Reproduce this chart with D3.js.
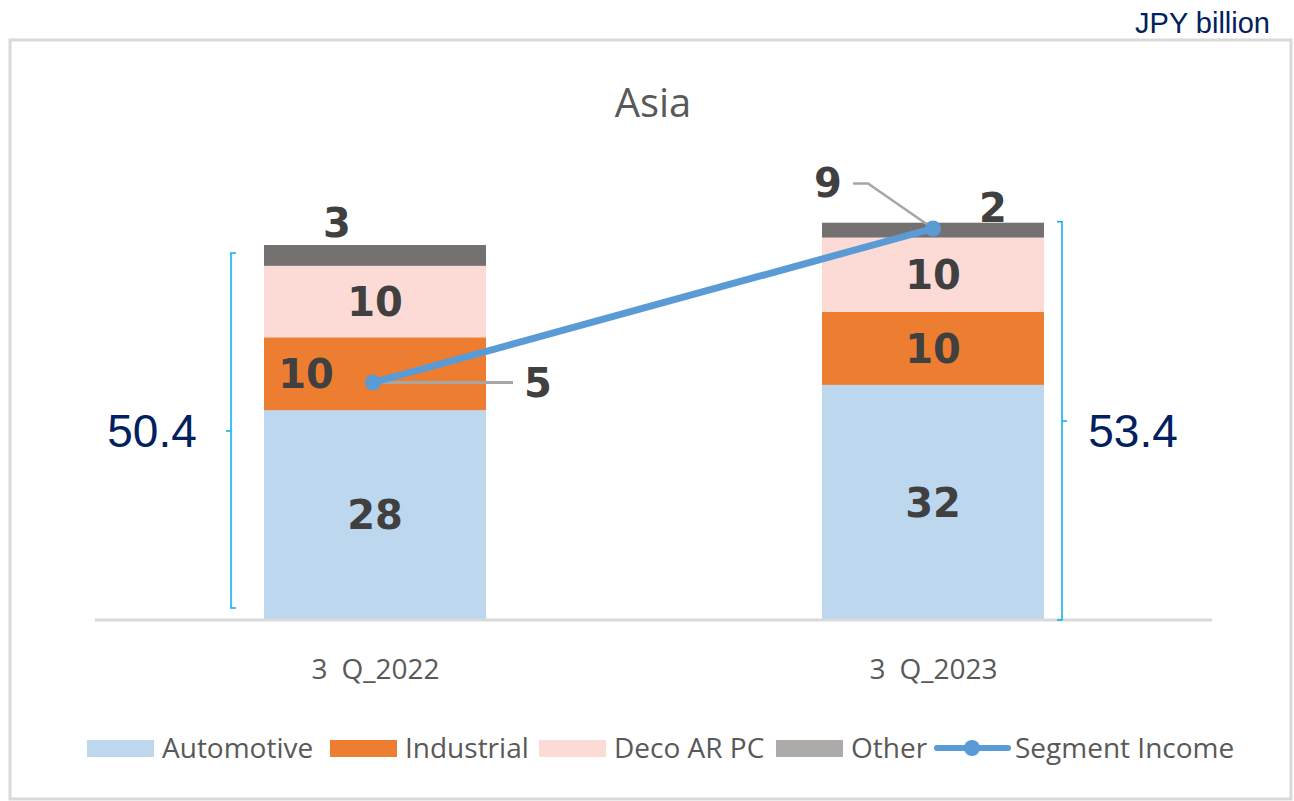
<!DOCTYPE html>
<html>
<head>
<meta charset="utf-8">
<script src="https://cdn.jsdelivr.net/npm/d3@7"></script>
<style>
  body { margin: 0; background: #fff; }
  svg { display: block; }
</style>
</head>
<body>
<div class="App"></div>
<script>
// chart values
const categories = ["3 Q_2022", "3 Q_2023"];
const seriesNames = ["Automotive", "Industrial", "Deco AR PC", "Other"];
const automotive = [28.2, 31.6];
const industrial = [9.8, 9.8];
const decoArPc = [9.6, 10.0];
const other = [2.8, 2.0];
const segmentIncome = [5, 9];
const totals = [50.4, 53.4];

const colors = ["#bdd7ee", "#ed7d31", "#fcdad5", "#767171"];
const legendColors = ["#bdd7ee", "#ed7d31", "#fcdad5", "#aeaaaa"];
const lineColor = "#5b9bd5";

const width = 1294, height = 801;
const baseY = 620, barW = 222;

const svg = d3.select(".App").append("svg")
    .attr("width", width)
    .attr("height", height);

// frame
svg.append("rect")
    .attr("x", 10).attr("y", 40)
    .attr("width", 1281).attr("height", 759)
    .attr("fill", "none")
    .attr("stroke", "#d9d9d9")
    .attr("stroke-width", 3);

svg.append("text")
    .attr("x", 1270).attr("y", 33)
    .attr("text-anchor", "end")
    .attr("font-family", "Liberation Sans, Arial, sans-serif")
    .attr("font-size", 29)
    .attr("fill", "#002060")
    .text("JPY billion");

svg.append("text")
    .attr("x", 653).attr("y", 117)
    .attr("text-anchor", "middle")
    .attr("font-family", "Open Sans, sans-serif")
    .attr("font-size", 40)
    .attr("fill", "#595959")
    .text("Asia");

const x = d3.scalePoint().domain(categories).range([96, 1212]).padding(0.5);
const y = d3.scaleLinear().domain([0, 60]).range([baseY, baseY - 446.4]);
const y2 = d3.scaleLinear().domain([0, 12]).range([575, 113]);

// stacked bars
const rows = categories.map((c, i) => ({
  cat: c,
  "Automotive": automotive[i],
  "Industrial": industrial[i],
  "Deco AR PC": decoArPc[i],
  "Other": other[i]
}));
const stack = d3.stack().keys(seriesNames)(rows);

const layer = svg.append("g").selectAll("g")
  .data(stack)
  .enter().append("g")
    .attr("fill", (d, i) => colors[i]);

layer.selectAll("rect")
  .data(d => d)
  .enter().append("rect")
    .attr("x", d => x(d.data.cat) - barW / 2)
    .attr("width", barW)
    .attr("y", d => y(d[1]))
    .attr("height", d => y(d[0]) - y(d[1]));

// axis line
svg.append("line")
    .attr("x1", 95).attr("x2", 1212)
    .attr("y1", baseY).attr("y2", baseY)
    .attr("stroke", "#d9d9d9").attr("stroke-width", 3);

const xAxis = svg.append("g")
    .attr("transform", "translate(0," + baseY + ")")
    .call(d3.axisBottom(x).tickSize(0).tickPadding(39));
xAxis.select(".domain").remove();
xAxis.selectAll("text")
    .attr("font-family", "Open Sans, sans-serif")
    .attr("font-size", 28)
    .attr("fill", "#595959")
    .text(d => d.replace(" ", "\u2002"));

// label nudges (other-series labels sit above the bar)
const nudge = {
  "Industrial|3 Q_2022": [-69, 0],
  "Other|3 Q_2022": [-38, -33],
  "Other|3 Q_2023": [60, -23]
};

stack.forEach(s => {
  svg.append("g").selectAll("text")
    .data(s)
    .enter().append("text")
      .attr("x", d => x(d.data.cat) + (nudge[s.key + "|" + d.data.cat] || [0, 0])[0])
      .attr("y", d => (y(d[0]) + y(d[1])) / 2 + (nudge[s.key + "|" + d.data.cat] || [0, 0])[1])
      .attr("dy", "0.36em")
      .attr("text-anchor", "middle")
      .attr("font-family", "DejaVu Sans, Verdana, sans-serif")
      .attr("font-weight", "bold")
      .attr("font-size", 40)
      .attr("fill", "#404040")
      .text(d => Math.round(d[1] - d[0]));
});

// total brackets
function bracket(cx, top, bottom, side, label, lx, midY) {
  const tick = 5 * side;
  const p = d3.path();
  p.moveTo(cx - tick, top); p.lineTo(cx, top); p.lineTo(cx, bottom); p.lineTo(cx - tick, bottom);
  p.moveTo(cx, midY); p.lineTo(cx + tick, midY);
  svg.append("path").attr("d", p.toString())
      .attr("fill", "none").attr("stroke", "#00b0f0").attr("stroke-width", 1.5);
  svg.append("text")
      .attr("x", lx).attr("y", 447)
      .attr("text-anchor", "middle")
      .attr("font-family", "Liberation Sans, Arial, sans-serif")
      .attr("font-size", 46)
      .attr("fill", "#002060")
      .text(label);
}
bracket(231, y(totals[0]) + 8, baseY - 12, -1, totals[0].toFixed(1), 152, 431);
bracket(1062, y(totals[1]) - 1, baseY, 1, totals[1].toFixed(1), 1133, 421);

// segment income line
const pts = categories.map((c, i) => [x(c) + (i === 0 ? -2 : 0), y2(segmentIncome[i])]);

// leader lines
svg.append("path")
    .attr("d", d3.line()([[pts[0][0], pts[0][1]], [pts[0][0] + 140, pts[0][1]]]))
    .attr("fill", "none").attr("stroke", "#a6a6a6").attr("stroke-width", 3);
svg.append("path")
    .attr("d", d3.line()([[853, y2(segmentIncome[1]) - 45], [868, y2(segmentIncome[1]) - 45], pts[1]]))
    .attr("fill", "none").attr("stroke", "#a6a6a6").attr("stroke-width", 2.5);

svg.append("path")
    .attr("d", d3.line()(pts))
    .attr("fill", "none")
    .attr("stroke", lineColor)
    .attr("stroke-width", 7)
    .attr("stroke-linecap", "round");

svg.append("g").selectAll("circle")
  .data(pts)
  .enter().append("circle")
    .attr("cx", d => d[0]).attr("cy", d => d[1])
    .attr("r", 8).attr("fill", lineColor);

const incomeLabelPos = [[pts[0][0] + 165, pts[0][1]], [828, y2(segmentIncome[1]) - 46]];
svg.append("g").selectAll("text")
  .data(segmentIncome)
  .enter().append("text")
    .attr("x", (d, i) => incomeLabelPos[i][0])
    .attr("y", (d, i) => incomeLabelPos[i][1])
    .attr("dy", "0.36em")
    .attr("text-anchor", "middle")
    .attr("font-family", "DejaVu Sans, Verdana, sans-serif")
    .attr("font-weight", "bold")
    .attr("font-size", 40)
    .attr("fill", "#404040")
    .text(d => d);

// legend
const legend = svg.append("g").attr("font-family", "Open Sans, sans-serif")
    .attr("font-size", 28).attr("fill", "#595959");
const legendX = [87, 330, 539, 776];
seriesNames.forEach((n, i) => {
  legend.append("rect")
      .attr("x", legendX[i]).attr("y", 740)
      .attr("width", 67).attr("height", 17)
      .attr("fill", legendColors[i]);
  legend.append("text")
      .attr("x", legendX[i] + 75).attr("y", 758)
      .text(n);
});
legend.append("line")
    .attr("x1", 937).attr("x2", 1008)
    .attr("y1", 748).attr("y2", 748)
    .attr("stroke", lineColor).attr("stroke-width", 6)
    .attr("stroke-linecap", "round");
legend.append("circle")
    .attr("cx", 972).attr("cy", 748).attr("r", 8).attr("fill", lineColor);
legend.append("text")
    .attr("x", 1015).attr("y", 758)
    .text("Segment Income");
</script>
</body>
</html>
